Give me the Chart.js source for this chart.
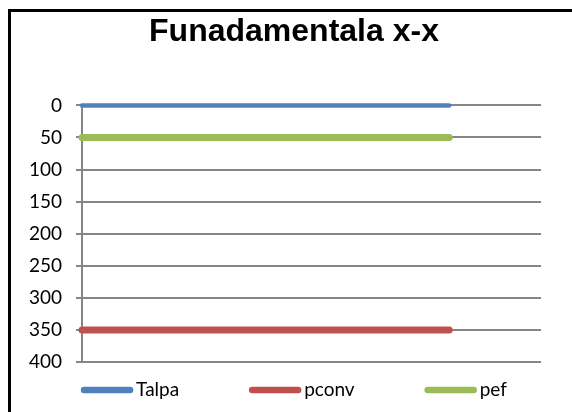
<!DOCTYPE html>
<html>
<head>
<meta charset="utf-8">
<script src="https://cdn.jsdelivr.net/npm/chart.js@4/dist/chart.umd.min.js"></script>
<style>
  html, body { margin: 0; padding: 0; background: #fff; }
  #wrap { position: relative; width: 572px; height: 412px; overflow: hidden; }
  #frame { position: absolute; left: 8px; top: 9px; width: 700px; height: 600px;
           border-left: 3px solid #000; border-top: 3px solid #000; }
  canvas { position: absolute; left: 0; top: 0; }
</style>
</head>
<body>
<div id="wrap">
  <div id="frame"></div>
  <canvas id="myChart" width="572" height="412"></canvas>
</div>
<script>
// data
var categories = ['1', '2', '3', '4', '5', '6'];
var talpa = [0, 0, 0, 0, 0, null];
var pconv = [350, 350, 350, 350, 350, null];
var pef = [50, 50, 50, 50, 50, null];
var yTicks = [0, 50, 100, 150, 200, 250, 300, 350, 400];

var tickFont = { family: 'Lato', size: 19 };

// legend along the bottom, drawn from the datasets
var bottomLegend = {
    id: 'bottomLegend',
    afterDraw: function(chart) {
        var ctx = chart.ctx;
        var sets = chart.data.datasets;
        var sw = 52, gap = 3, space = 70;
        ctx.save();
        ctx.font = '19px Lato';
        var widths = sets.map(function(d) { return sw + gap + ctx.measureText(d.label).width; });
        var total = widths.reduce(function(a, b) { return a + b; }, 0) + space * (sets.length - 1);
        var x = (chart.width + 16) / 2 - total / 2;
        var y = 390;
        sets.forEach(function(d, i) {
            ctx.strokeStyle = d.borderColor;
            ctx.lineWidth = 6.5;
            ctx.lineCap = 'round';
            ctx.beginPath();
            ctx.moveTo(x + 3, y);
            ctx.lineTo(x + sw - 3, y);
            ctx.stroke();
            ctx.fillStyle = '#000';
            ctx.textBaseline = 'middle';
            ctx.textAlign = 'left';
            ctx.fillText(d.label, x + sw + gap, y);
            x += widths[i] + space;
        });
        ctx.restore();
    }
};

var ctx = document.getElementById('myChart').getContext('2d');
var myChart = new Chart(ctx, {
    type: 'line',
    data: {
        labels: categories,
        datasets: [
            { label: 'Talpa', data: talpa, borderColor: '#4F81BD', backgroundColor: '#4F81BD', borderWidth: 4.5, clip: false },
            { label: 'pconv', data: pconv, borderColor: '#C0504D', backgroundColor: '#C0504D', borderWidth: 7, clip: false },
            { label: 'pef', data: pef, borderColor: '#9BBB59', backgroundColor: '#9BBB59', borderWidth: 7, clip: false }
        ]
    },
    options: {
        responsive: false,
        animation: false,
        elements: {
            point: { radius: 0, hoverRadius: 0 },
            line: { tension: 0, borderCapStyle: 'round' }
        },
        layout: {
            padding: { left: 16, right: 0, top: 0, bottom: 50 }
        },
        plugins: {
            legend: { display: false },
            tooltip: { enabled: false },
            title: {
                display: true,
                text: 'Funadamentala x-x',
                color: '#000',
                font: { family: 'Liberation Sans', size: 32, weight: 'bold' },
                padding: { top: 13, bottom: 54 }
            }
        },
        scales: {
            x: {
                type: 'category',
                display: false,
                offset: false
            },
            y: {
                reverse: true,
                min: 0,
                max: 400,
                afterBuildTicks: function(scale) {
                    scale.ticks = yTicks.map(function(v) { return { value: v }; });
                },
                afterFit: function(scale) {
                    scale.width = 66;
                },
                ticks: {
                    color: '#000',
                    font: tickFont,
                    padding: 14
                },
                grid: {
                    color: '#868686',
                    lineWidth: 2,
                    tickLength: 6
                },
                border: {
                    color: '#868686',
                    width: 2
                }
            },
            y2: {
                position: 'right',
                display: true,
                grid: { display: false },
                ticks: { display: false },
                border: { display: false },
                afterFit: function(scale) {
                    scale.width = 31;
                }
            }
        }
    },
    plugins: [bottomLegend]
});
</script>
</body>
</html>
